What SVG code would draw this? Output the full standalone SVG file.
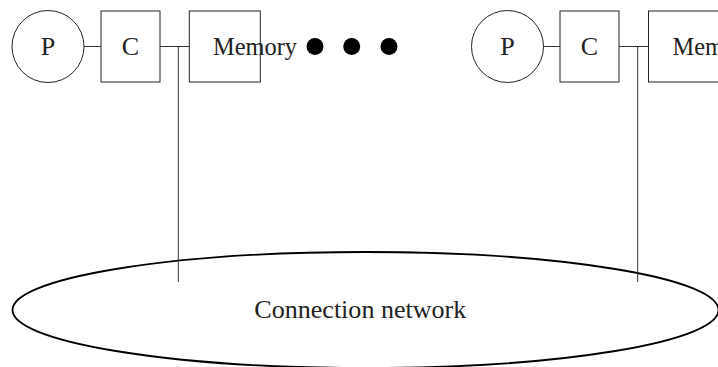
<svg xmlns="http://www.w3.org/2000/svg" width="718" height="367" viewBox="0 0 718 367">
  <style>
    .shape { fill: none; stroke: #222; stroke-width: 1; }
    .wire { fill: none; stroke: #333; stroke-width: 1; }
    .label { font-family: "Liberation Serif", "DejaVu Serif", serif; font-size: 26px; fill: #222; }
    .mid { text-anchor: middle; }
    .dot { fill: #000; }
  </style>
  <rect width="718" height="367" fill="#fff"/>

  <!-- first processor / cache / memory unit -->
  <g id="p1">
    <circle class="shape" cx="48" cy="46.5" r="36"/>
    <text class="label mid" x="48" y="55">P</text>
  </g>
  <g id="c1">
    <rect class="shape" x="101" y="11" width="59" height="71"/>
    <text class="label mid" x="130.5" y="55">C</text>
  </g>
  <g id="m1">
    <rect class="shape" x="189.3" y="11" width="71" height="71"/>
    <text class="label" x="213" y="55" textLength="84" lengthAdjust="spacingAndGlyphs">Memory</text>
  </g>

  <!-- ellipsis between units -->
  <g id="dots">
    <circle class="dot" cx="315" cy="46.5" r="8.5"/>
    <circle class="dot" cx="351.7" cy="46.5" r="8.5"/>
    <circle class="dot" cx="389" cy="46.5" r="8.5"/>
  </g>

  <!-- last processor / cache / memory unit -->
  <g id="p2">
    <circle class="shape" cx="507.5" cy="46.5" r="36"/>
    <text class="label mid" x="507.5" y="55">P</text>
  </g>
  <g id="c2">
    <rect class="shape" x="560" y="11" width="59" height="71"/>
    <text class="label mid" x="589.5" y="55">C</text>
  </g>
  <g id="m2">
    <rect class="shape" x="648.5" y="11" width="71" height="71"/>
    <text class="label" x="672.5" y="55" textLength="84" lengthAdjust="spacingAndGlyphs">Memory</text>
  </g>

  <!-- interconnect -->
  <g id="network">
    <ellipse cx="365.5" cy="310" rx="353" ry="58" fill="none" stroke="#000" stroke-width="1.8"/>
    <text class="label mid" x="360.3" y="318" textLength="212" lengthAdjust="spacingAndGlyphs">Connection network</text>
  </g>

  <g id="connectors">
    <line class="wire" x1="84" y1="46.5" x2="101" y2="46.5"/>
    <line class="wire" x1="160" y1="46.5" x2="189.3" y2="46.5"/>
    <line class="wire" x1="178.3" y1="46.5" x2="178.3" y2="282"/>
    <line class="wire" x1="543.5" y1="46.5" x2="560" y2="46.5"/>
    <line class="wire" x1="619" y1="46.5" x2="648.5" y2="46.5"/>
    <line class="wire" x1="637.7" y1="46.5" x2="637.7" y2="282"/>
  </g>
</svg>
